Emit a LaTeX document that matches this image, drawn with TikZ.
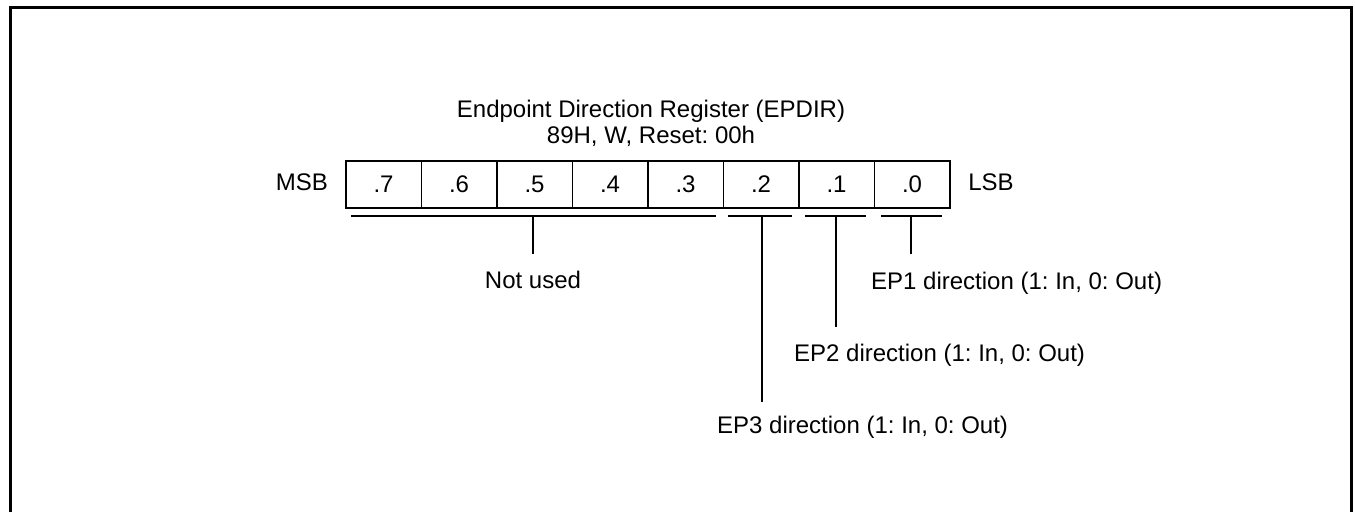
\documentclass[tikz,border=0pt]{standalone}
\usepackage{fontspec}
\setmainfont{Liberation Sans}
\newcommand{\lbl}{\fontsize{24}{26}\selectfont\frenchspacing}
\begin{document}
\begin{tikzpicture}[x=1pt,y=-1pt,
  cell/.style={draw,line width=1.6pt,minimum width=75.5pt,minimum height=47pt,inner sep=0pt,anchor=north west,font=\lbl},
  txt/.style={anchor=base,inner sep=0pt,font=\lbl},
  txtw/.style={anchor=base west,inner sep=0pt,font=\lbl},
  brk/.style={line width=1.6pt},
  frame/.style={line width=3pt}]
\useasboundingbox (0,0) rectangle (1355,512);
\draw[frame] (10.5,512) -- (10.5,7.5) -- (1351.5,7.5) -- (1351.5,512);
% title
\node[txt] (title) at (651,117) {Endpoint Direction Register (EPDIR)};
\node[txt] (sub) at (651,143) {89H, W, Reset: 00h};
% cells
\foreach \i/\b in {0/7,1/6,2/5,3/4,4/3,5/2,6/1,7/0}{
  \node[cell] (c\b) at ({345+75.5*\i},160) {.\b};
}
\node[txt] (msb) at (302,190) {MSB};
\node[txt] (lsb) at (991,190) {LSB};
% brackets
\coordinate (nuL) at (351,216);
\coordinate (nuR) at (716,216);
\coordinate (nuT) at (533,216);
\coordinate (nuB) at (533,254);
\coordinate (b2L) at (728,216);
\coordinate (b2R) at (792,216);
\coordinate (b2T) at (762,216);
\coordinate (b2B) at (762,402);
\coordinate (b1L) at (805,216);
\coordinate (b1R) at (866,216);
\coordinate (b1T) at (836,216);
\coordinate (b1B) at (836,327);
\coordinate (b0L) at (881,216);
\coordinate (b0R) at (942,216);
\coordinate (b0T) at (911,216);
\coordinate (b0B) at (911,254);
\draw[brk] (nuL) -- (nuR) (nuT) -- (nuB);
\draw[brk] (b2L) -- (b2R) (b2T) -- (b2B);
\draw[brk] (b1L) -- (b1R) (b1T) -- (b1B);
\draw[brk] (b0L) -- (b0R) (b0T) -- (b0B);
% labels
\node[txt] (nu) at (533,288) {Not used};
\node[txtw] (ep1) at (871,289) {EP1 direction (1: In, 0: Out)};
\node[txtw] (ep2) at (794,361) {EP2 direction (1: In, 0: Out)};
\node[txtw] (ep3) at (717,433) {EP3 direction (1: In, 0: Out)};
\end{tikzpicture}
\end{document}
